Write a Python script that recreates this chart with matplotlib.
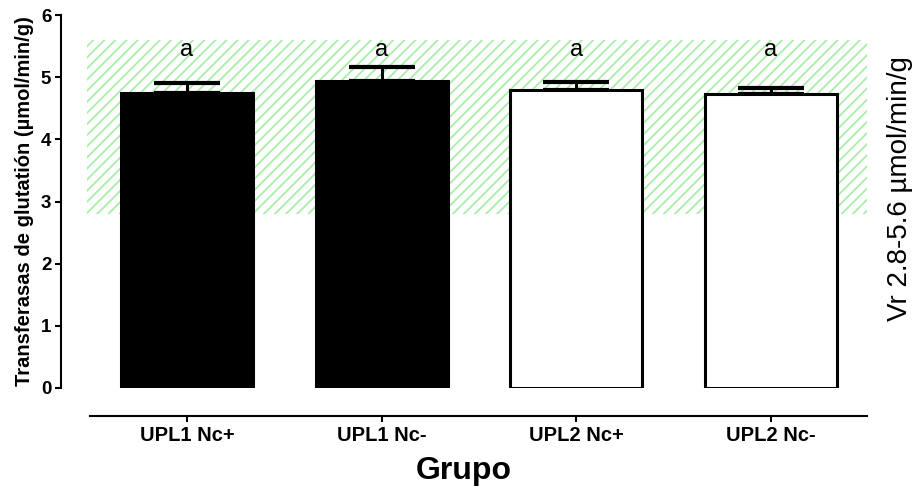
import matplotlib
matplotlib.use("Agg")
import matplotlib.pyplot as plt
from matplotlib.patches import Rectangle

plt.rcParams['font.family'] = ['Liberation Sans', 'DejaVu Sans']
plt.rcParams['hatch.linewidth'] = 1.3

# Data
groups = ["UPL1 Nc+", "UPL1 Nc-", "UPL2 Nc+", "UPL2 Nc-"]
means = [4.75, 4.94, 4.80, 4.73]
sem = [0.16, 0.23, 0.13, 0.10]
fills = ["black", "black", "white", "white"]
letters = ["a", "a", "a", "a"]
ref_low, ref_high = 2.8, 5.6
yticks = [0, 1, 2, 3, 4, 5, 6]

fig = plt.figure(figsize=(9.16, 4.95), dpi=100)
ax = fig.add_axes([61 / 916, 107 / 495, 806 / 916, 373 / 495])

x = list(range(len(groups)))

# Reference range band
ax.add_patch(Rectangle((-0.514, ref_low), 3.5 + 0.514, ref_high - ref_low,
                       facecolor="white", edgecolor="#a8eea8", hatch="///",
                       linewidth=0, zorder=0))

ax.bar(x, means, width=0.678, color=fills, edgecolor="black",
       linewidth=2.2, zorder=3)
ax.errorbar(x, means, yerr=[[0] * len(sem), sem], fmt="none", ecolor="black",
            elinewidth=2.2, capsize=24, capthick=3, zorder=2, clip_on=False)

for xi, lab in zip(x, letters):
    ax.text(xi, 5.44, lab, ha="center", va="center", fontsize=17, zorder=4)

ax.set_xlim(-0.647, 3.493)
ax.set_ylim(0, 6)

ax.spines["top"].set_visible(False)
ax.spines["right"].set_visible(False)
ax.spines["left"].set_linewidth(1.5)
ax.spines["bottom"].set_linewidth(1.5)
ax.spines["bottom"].set_position(("outward", 20.5))
ax.spines["bottom"].set_bounds(-0.498, 3.493)

ax.set_yticks(yticks)
ax.set_yticklabels([str(t) for t in yticks], fontweight="bold", fontsize=13.5)
ax.set_xticks(x)
ax.set_xticklabels(groups, fontweight="bold", fontsize=14.5)
ax.tick_params(axis="both", direction="out", length=4, width=1.5, pad=3)

ax.set_ylabel("Transferasas de glutatión (µmol/min/g)", fontweight="bold",
              fontsize=14.5, labelpad=5)
ax.set_xlabel("Grupo", fontweight="bold", fontsize=23, labelpad=8)

fig.text(900 / 916, 1 - 189 / 495, "Vr 2.8-5.6 µmol/min/g", rotation=90,
         ha="center", va="center", fontsize=20)

fig.savefig("out.png", dpi=100, facecolor="white")
